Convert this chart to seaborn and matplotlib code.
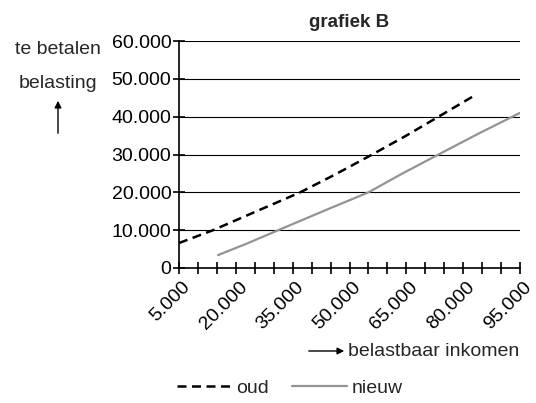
import pandas as pd
import numpy as np
import matplotlib
matplotlib.use("Agg")
import matplotlib.pyplot as plt
import matplotlib.ticker as mticker
from matplotlib.transforms import ScaledTranslation
import seaborn as sns

#values (belastbaar inkomen vs te betalen belasting)
oud_x = [5000, 14000, 25000, 37000, 46000, 56000, 65000, 73000, 82500]
oud_y = [6600, 10000, 14800, 20000, 24600, 30000, 35000, 39700, 45300]
nieuw_x = [15300, 23000, 31200, 43000, 55000, 64000, 73500, 84000, 95000]
nieuw_y = [3400, 6500, 10000, 15000, 20000, 25000, 30000, 35500, 41000]

x_ticks = [5000, 20000, 35000, 50000, 65000, 80000, 95000]
y_ticks = [0, 10000, 20000, 30000, 40000, 50000, 60000]

oud = pd.DataFrame({'inkomen': oud_x, 'belasting': oud_y})
nieuw = pd.DataFrame({'inkomen': nieuw_x, 'belasting': nieuw_y})

sns.set_style('white')
plt.rcParams['font.family'] = ['Liberation Sans', 'DejaVu Sans']
FS = 14

fig = plt.figure(figsize=(5.36, 4.03), dpi=100)
ax = fig.add_axes([179/536, 1 - 268/403, (520 - 179)/536, (268 - 41)/403])

sns.lineplot(data=oud, x='inkomen', y='belasting', ax=ax, color='black',
             linewidth=1.8, label='oud')
ax.lines[-1].set_dashes((3.6, 2.2))
sns.lineplot(data=nieuw, x='inkomen', y='belasting', ax=ax, color='#939393',
             linewidth=1.6, label='nieuw')

ax.set_xlim(5000, 95000)
ax.set_ylim(0, 60000)
ax.set_xticks(x_ticks)
ax.xaxis.set_minor_locator(mticker.MultipleLocator(5000))
ax.set_yticks(y_ticks)
fmt = mticker.FuncFormatter(lambda v, p: f"{v:,.0f}".replace(',', '.'))
ax.xaxis.set_major_formatter(fmt)
ax.yaxis.set_major_formatter(fmt)

#horizontal lines only
ax.yaxis.grid(True, color='black', linewidth=0.8)
ax.xaxis.grid(False)
for s in ['top', 'right']:
    ax.spines[s].set_visible(False)
ax.spines['left'].set_color('black')
ax.spines['bottom'].set_color('black')
ax.spines['left'].set_linewidth(1.2)
ax.spines['bottom'].set_linewidth(1.2)

ax.tick_params(axis='y', which='major', direction='inout', length=9, width=1.2,
               labelsize=FS, pad=1, colors='black', left=True)
ax.tick_params(axis='x', which='both', direction='inout', length=8, width=1.2,
               labelsize=FS, pad=2, colors='black', bottom=True)
for lbl in ax.get_xticklabels():
    lbl.set_rotation(45)
    lbl.set_ha('right')
    lbl.set_va('top')
    lbl.set_rotation_mode('anchor')
    lbl.set_transform(lbl.get_transform() + ScaledTranslation(0.03, -0.02, fig.dpi_scale_trans))

ax.set_xlabel('')
ax.set_ylabel('')
ax.set_title('grafiek B', fontsize=13.5, fontweight='bold', pad=10)

#axis captions with arrows
fig.text(58/536, 1 - 50/403, 'te betalen', ha='center', va='center', fontsize=FS)
fig.text(58/536, 1 - 83/403, 'belasting', ha='center', va='center', fontsize=FS)
fig.add_artist(matplotlib.patches.FancyArrowPatch(
    (58/536, 1 - 136/403), (58/536, 1 - 98/403), transform=fig.transFigure,
    arrowstyle='-|>,head_length=4,head_width=2', color='black', lw=1))
fig.text(348/536, 1 - 351/403, 'belastbaar inkomen', ha='left', va='center', fontsize=FS)
fig.add_artist(matplotlib.patches.FancyArrowPatch(
    (306/536, 1 - 351/403), (347/536, 1 - 351/403), transform=fig.transFigure,
    arrowstyle='-|>,head_length=4,head_width=2', color='black', lw=1))

ax.legend(ncol=2, loc='center left', bbox_to_anchor=(177/536, 1 - 388/403),
          bbox_transform=fig.transFigure, frameon=False, fontsize=FS,
          handlelength=2.8, handletextpad=0.25, columnspacing=1.2,
          borderpad=0, borderaxespad=0)

fig.savefig('out.png', dpi=100)
